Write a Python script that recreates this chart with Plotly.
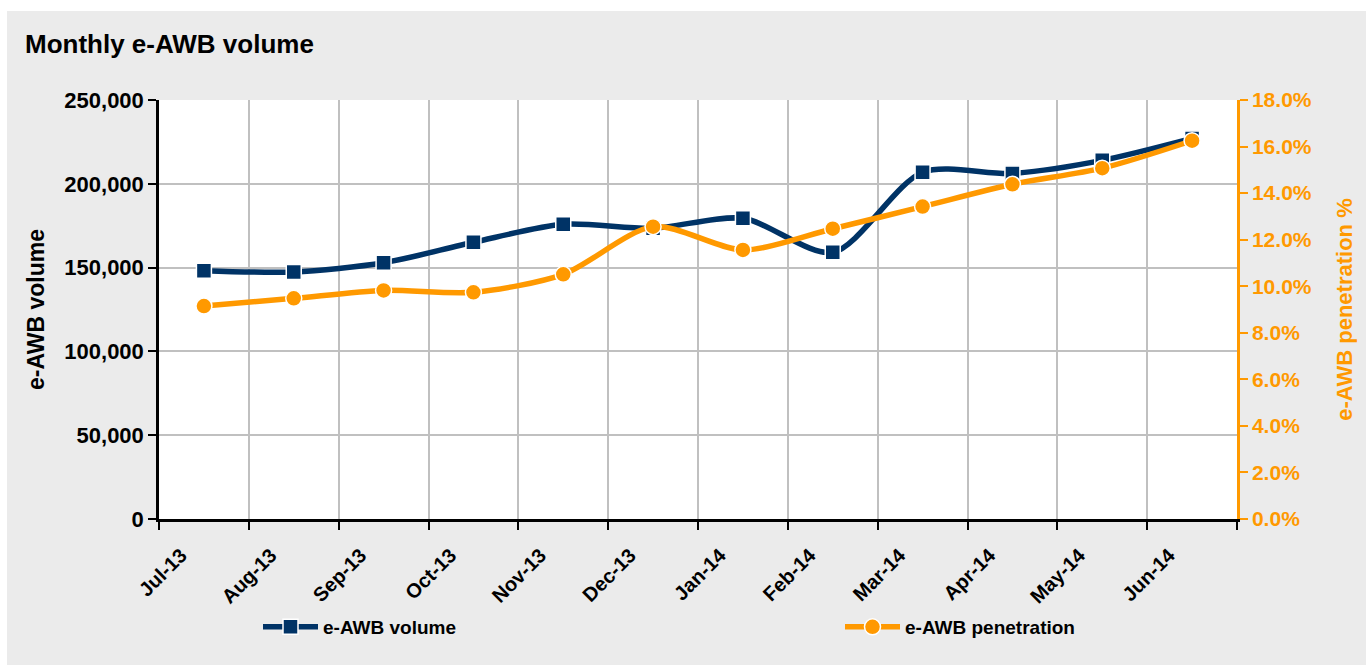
import plotly.graph_objects as go

months = ["Jul-13", "Aug-13", "Sep-13", "Oct-13", "Nov-13", "Dec-13",
          "Jan-14", "Feb-14", "Mar-14", "Apr-14", "May-14", "Jun-14"]
volume = [148150, 147400, 152900, 165100, 175800, 173500,
          179400, 159100, 206900, 206200, 214000, 227100]
penetration = [9.15, 9.48, 9.82, 9.74, 10.51, 12.56,
               11.56, 12.47, 13.42, 14.38, 15.07, 16.25]

NAVY = "#003366"
ORANGE = "#FF9900"
FONT = "Liberation Sans, Arial, sans-serif"

W, H = 1366, 665
xpos = [i + 0.5 for i in range(len(months))]
tickvals = list(range(len(months) + 1))
ticktext = months + [""]

fig = go.Figure()
fig.add_trace(go.Scatter(
    x=xpos, y=volume, name="e-AWB volume", mode="lines+markers",
    line=dict(color=NAVY, width=5.5, shape="spline", smoothing=0.8),
    marker=dict(symbol="square", size=15, color=NAVY, line=dict(color="white", width=1.5)),
    legend="legend", showlegend=True,
))
fig.add_trace(go.Scatter(
    x=xpos, y=penetration, name="e-AWB penetration", mode="lines+markers",
    line=dict(color=ORANGE, width=5.5, shape="spline", smoothing=0.8),
    marker=dict(symbol="circle", size=16, color=ORANGE, line=dict(color="white", width=1.5)),
    yaxis="y2", legend="legend2", showlegend=True,
))

fig.update_layout(
    width=W, height=H, showlegend=True,
    margin=dict(l=159, r=129, t=100, b=146),
    paper_bgcolor="white", plot_bgcolor="rgba(0,0,0,0)",
    font=dict(family=FONT, color="black"),
    title=dict(text="<b>Monthly e-AWB volume</b>", x=25 / W, xref="container", xanchor="left",
               y=1 - 44 / H, yref="container", yanchor="middle",
               font=dict(size=26, family=FONT, color="black")),
    xaxis=dict(range=[0, 12], tickmode="array", tickvals=tickvals, ticktext=ticktext,
               tickangle=-45, ticks="outside", ticklen=8, tickwidth=2, tickcolor="black",
               showline=True, linecolor="black", linewidth=2.5,
               showgrid=True, gridcolor="#c0c0c0", gridwidth=2,
               tickfont=dict(size=20, family=FONT, color="black", weight="bold"),
               ticklabelshift=22, ticklabelstandoff=6, zeroline=False),
    yaxis=dict(range=[0, 250000], tickvals=[0, 50000, 100000, 150000, 200000, 250000],
               tickformat=",d", ticks="outside", ticklen=8, tickwidth=2, tickcolor="black",
               showline=True, linecolor="black", linewidth=2.5,
               showgrid=True, gridcolor="#c0c0c0", gridwidth=2, zeroline=False,
               tickfont=dict(size=22, family=FONT, color="black", weight="bold"),
               title=dict(text="<b>e-AWB volume</b>", standoff=14,
                          font=dict(size=23, family=FONT, color="black"))),
    yaxis2=dict(range=[0, 18], overlaying="y", side="right",
                tickvals=[0, 2, 4, 6, 8, 10, 12, 14, 16, 18],
                ticktext=[f"{v:.1f}%" for v in [0, 2, 4, 6, 8, 10, 12, 14, 16, 18]],
                ticks="outside", ticklen=8, tickwidth=2, tickcolor=ORANGE,
                showline=True, linecolor=ORANGE, linewidth=2.5, showgrid=False, zeroline=False,
                tickfont=dict(size=21, family=FONT, color=ORANGE, weight="bold"),
                title=dict(text="<b>e-AWB penetration %</b>", standoff=26,
                           font=dict(size=22, family=FONT, color=ORANGE))),
    legend=dict(orientation="h", x=(258 - 159) / 1078, y=(519 - 627) / 419,
                xanchor="left", yanchor="middle", itemwidth=55,
                bgcolor="rgba(0,0,0,0)", font=dict(size=19, family=FONT, color="black", weight="bold")),
    legend2=dict(orientation="h", x=(840 - 159) / 1078, y=(519 - 627) / 419,
                 xanchor="left", yanchor="middle", itemwidth=55,
                 bgcolor="rgba(0,0,0,0)", font=dict(size=19, family=FONT, color="black", weight="bold")),
    shapes=[
        dict(type="rect", xref="paper", yref="paper", layer="below",
             x0=(7 - 159) / 1078, x1=(1366 - 159) / 1078,
             y0=(519 - 665) / 419, y1=(519 - 11) / 419,
             fillcolor="#ebebeb", line=dict(width=0)),
        dict(type="rect", xref="paper", yref="paper", layer="below",
             x0=0, x1=1, y0=0, y1=1, fillcolor="white", line=dict(width=0)),
    ],
)

fig.write_html("out.html", config={"displayModeBar": False},
               post_script="document.body.style.margin='0';")
